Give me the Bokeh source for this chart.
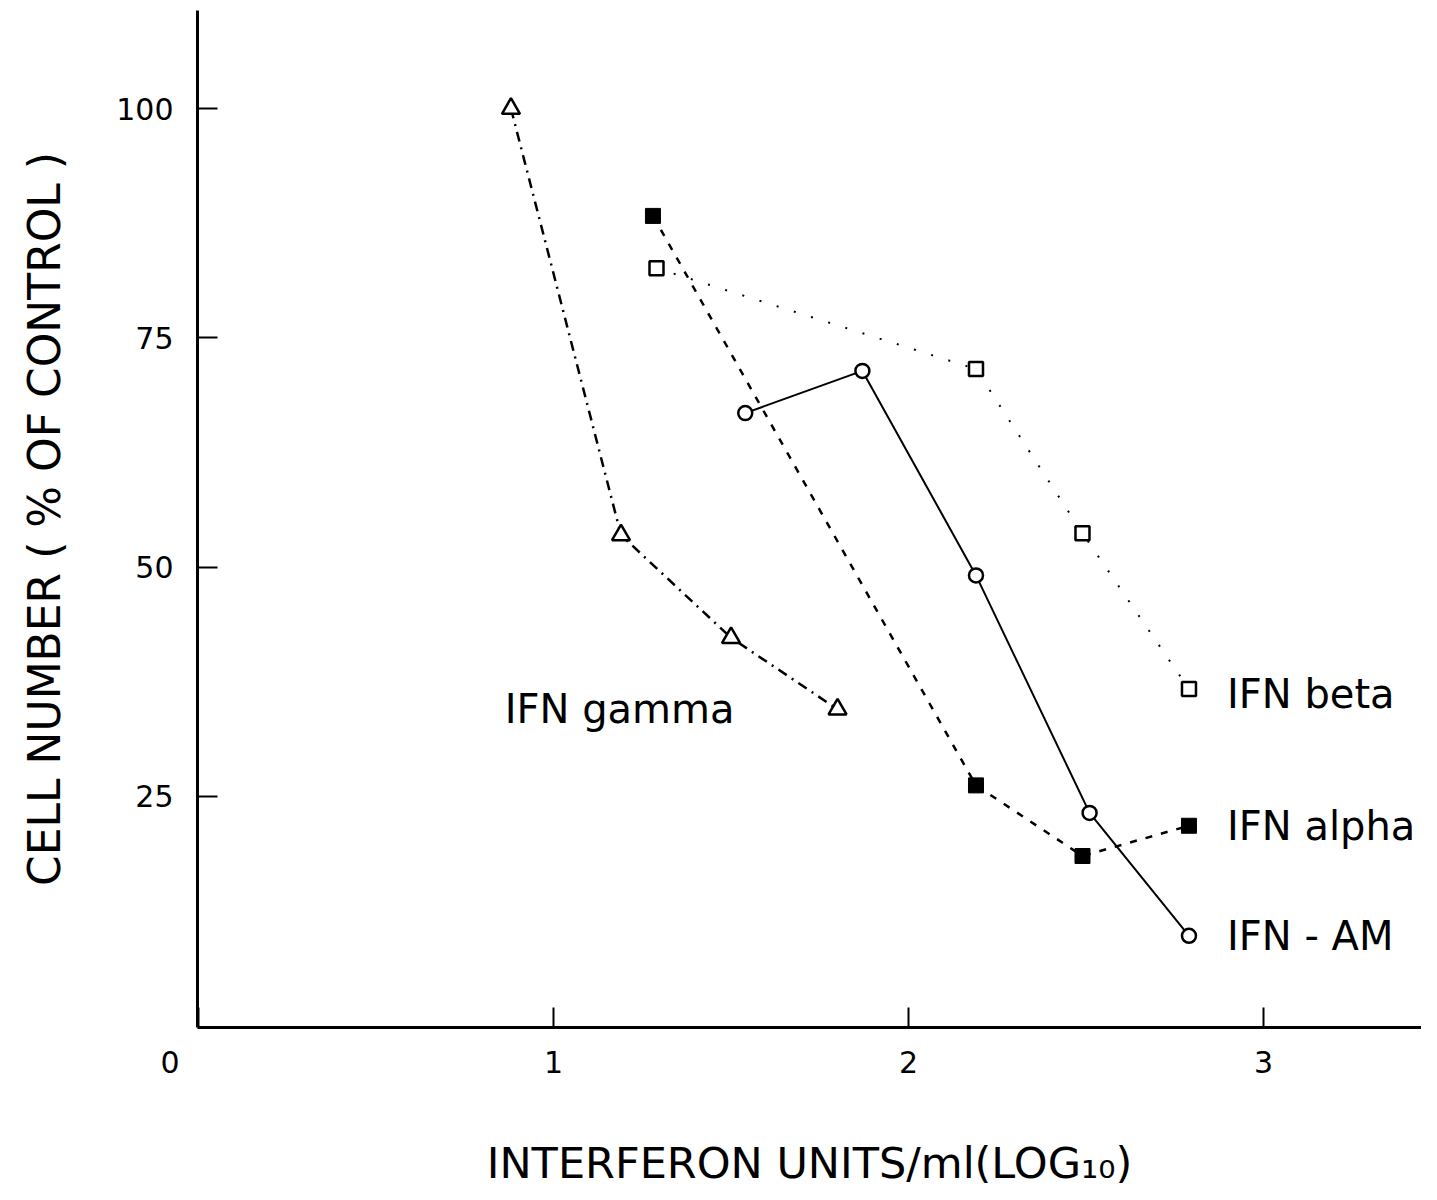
from bokeh.plotting import figure
from bokeh.models import Range1d, FixedTicker
from bokeh.core.properties import value
from bokeh.embed import file_html
from bokeh.resources import INLINE

# ---- data ----
gamma_x = [0.88, 1.19, 1.50, 1.80]
gamma_y = [100.0, 53.5, 42.3, 34.5]
alpha_x = [1.28, 2.19, 2.49, 2.79]
alpha_y = [88.3, 26.2, 18.5, 21.8]
am_x = [1.54, 1.87, 2.19, 2.51, 2.79]
am_y = [66.8, 71.4, 49.1, 23.2, 9.8]
beta_x = [1.29, 2.19, 2.49, 2.79]
beta_y = [82.6, 71.6, 53.7, 36.7]

series_names = ["IFN gamma", "IFN alpha", "IFN - AM", "IFN beta"]
x_ticks = [0, 1, 2, 3]
x_tick_labels = {0: "0\u00a0\u00a0\u00a0\u00a0\u00a0\u00a0", 1: "1", 2: "2", 3: "3"}
y_ticks = [25, 50, 75, 100]
x_label = "INTERFERON UNITS/ml(LOG\u2081\u2080)"
y_label = "CELL NUMBER ( % OF CONTROL )"

FONT = "DejaVu Sans"

p = figure(width=1421, height=1190, output_backend="svg", toolbar_location=None,
           x_range=Range1d(-0.003, 3.445), y_range=Range1d(-0.2, 110.7),
           min_border_left=197, min_border_right=0, min_border_top=10, min_border_bottom=150)
p.outline_line_color = None
p.xgrid.visible = False
p.ygrid.visible = False
p.background_fill_color = "white"

for ax in (p.xaxis[0], p.yaxis[0]):
    ax.axis_line_width = 3
    ax.axis_line_color = "black"
    ax.major_tick_in = 20
    ax.major_tick_out = 0
    ax.major_tick_line_width = 2
    ax.minor_tick_line_color = None
    ax.major_label_text_font = FONT
    ax.major_label_text_font_size = "30px"
    ax.major_label_text_color = "black"
    ax.axis_label_text_font = FONT
    ax.axis_label_text_font_style = "normal"
    ax.axis_label_text_color = "black"

p.xaxis.ticker = FixedTicker(ticks=x_ticks)
p.xaxis.major_label_overrides = x_tick_labels
p.yaxis.ticker = FixedTicker(ticks=y_ticks)
p.xaxis.major_label_standoff = 17
p.yaxis.major_label_standoff = 24
p.xaxis.axis_label = x_label
p.yaxis.axis_label = y_label
p.xaxis.axis_label_text_font_size = "43px"
p.yaxis.axis_label_text_font_size = "44px"
p.xaxis.axis_label_standoff = 55
p.yaxis.axis_label_standoff = 43

# ---- lines ----
p.line(gamma_x, gamma_y, line_color="black", line_width=2.5, line_dash="10 6 2 6")
p.line(alpha_x, alpha_y, line_color="black", line_width=2.5, line_dash="7 9")
p.line(am_x, am_y, line_color="black", line_width=2)
p.line(beta_x, beta_y, line_color="black", line_width=2, line_dash="2 16")

# ---- markers ----
p.scatter(gamma_x, gamma_y, marker="triangle", size=18, line_color="black",
          line_width=2.5, fill_color="white")
p.scatter(alpha_x, alpha_y, marker="square", size=15, line_color="black",
          line_width=1, fill_color="black")
p.scatter(am_x, am_y, marker="circle", size=14, line_color="black",
          line_width=2.5, fill_color="white")
p.scatter(beta_x, beta_y, marker="square", size=14, line_color="black",
          line_width=2.5, fill_color="white")

# ---- series labels, attached to data points ----
lab_kw = dict(text_font=value(FONT), text_font_size="40px", text_color="black",
              text_baseline="middle")
p.text(x=[gamma_x[-1]], y=[gamma_y[-1]], text=[series_names[0]],
       text_align="right", x_offset=-103, **lab_kw)
p.text(x=[alpha_x[-1]], y=[alpha_y[-1]], text=[series_names[1]],
       text_align="left", x_offset=38, **lab_kw)
p.text(x=[am_x[-1]], y=[am_y[-1]], text=[series_names[2]],
       text_align="left", x_offset=38, **lab_kw)
p.text(x=[beta_x[-1]], y=[beta_y[-1]], text=[series_names[3]],
       text_align="left", x_offset=38, y_offset=5, **lab_kw)

open("out.html", "w").write(file_html(p, INLINE))
